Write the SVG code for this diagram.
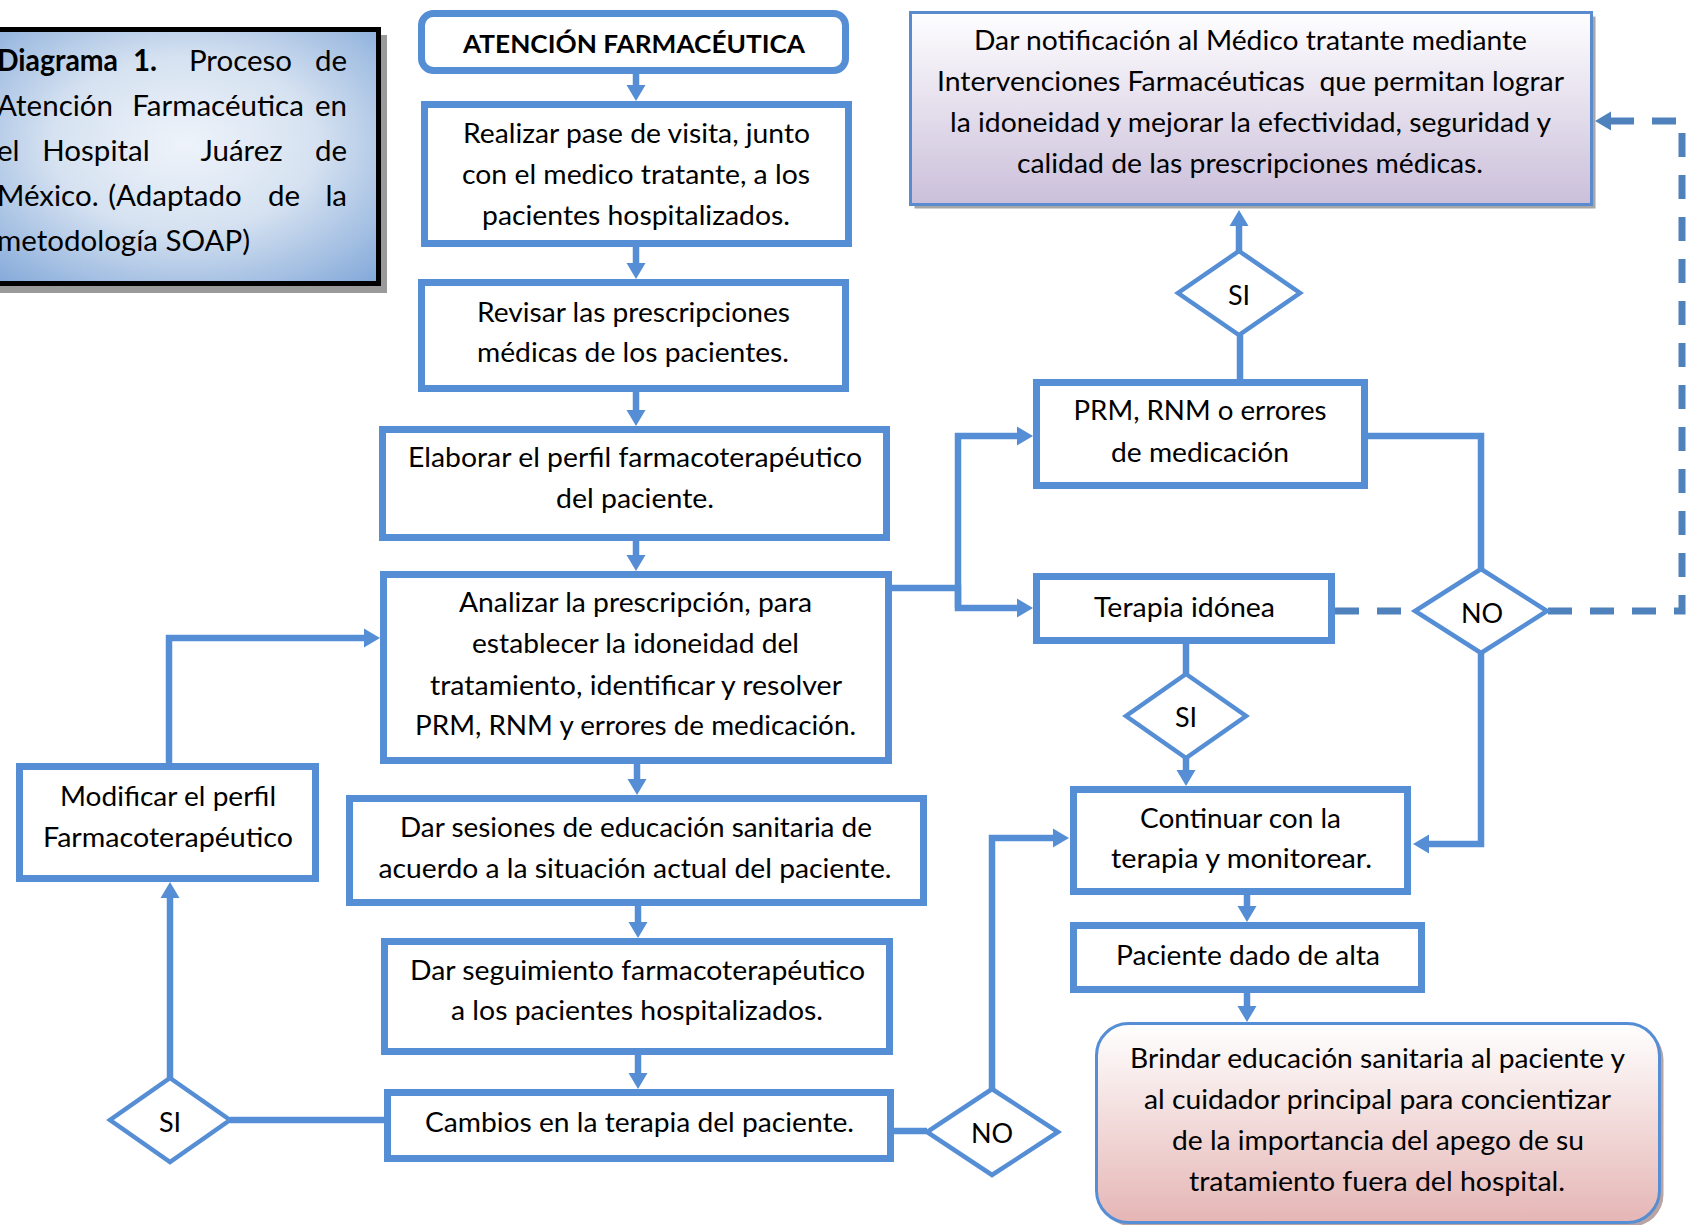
<svg xmlns="http://www.w3.org/2000/svg" width="1690" height="1225" viewBox="0 0 1690 1225">
<defs>
<style>
.n{fill:#fff;stroke:#558ed5;stroke-width:7}
.d{fill:#fff;stroke:#558ed5;stroke-width:4.5}
.c{fill:none;stroke:#558ed5;stroke-width:6.5}
.cd{fill:none;stroke:#4f81bd;stroke-width:7;stroke-dasharray:24 18}
.t{font-family:Lato,"Open Sans",sans-serif;font-size:27px;fill:#000;text-anchor:middle}
.cap{font-family:Lato,"Open Sans",sans-serif;font-size:29.5px;fill:#000}
.b{font-weight:bold}
.m{text-anchor:middle}
.e{text-anchor:end}
</style>
<marker id="ah" markerUnits="userSpaceOnUse" viewBox="0 -10 16 20" markerWidth="16" markerHeight="20" refX="0" refY="0" orient="auto"><path d="M0,-9.5 L16,0 L0,9.5 z" fill="#558ed5"/></marker>
<marker id="ahd" markerUnits="userSpaceOnUse" viewBox="0 -10 16 20" markerWidth="16" markerHeight="20" refX="0" refY="0" orient="auto"><path d="M0,-9.5 L16,0 L0,9.5 z" fill="#4f81bd"/></marker>
<radialGradient id="gcap" cx="50%" cy="45%" r="75%">
<stop offset="0" stop-color="#eef3fa"/><stop offset="0.45" stop-color="#d6e2f1"/><stop offset="1" stop-color="#7fa6d8"/>
</radialGradient>
<linearGradient id="gnot" x1="0" y1="0" x2="0" y2="1"><stop offset="0" stop-color="#fefeff"/><stop offset="1" stop-color="#cbbfda"/></linearGradient>
<linearGradient id="gbri" x1="0" y1="0" x2="0" y2="1"><stop offset="0" stop-color="#ffffff"/><stop offset="1" stop-color="#e5b6b5"/></linearGradient>
</defs>

<g id="caption">
<rect x="-5" y="35" width="392" height="258" fill="#9a9a9a"/>
<rect x="-10" y="29.5" width="388.5" height="254" fill="url(#gcap)" stroke="#000" stroke-width="5"/>
<text class="cap b" x="-3" y="71" textLength="121" lengthAdjust="spacingAndGlyphs">Diagrama</text>
<text class="cap b m" x="145" y="71">1.</text>
<text class="cap m" x="240.5" y="71">Proceso</text>
<text class="cap e" x="347" y="71">de</text>
<text class="cap" x="-3" y="116">Atención</text>
<text class="cap m" x="218" y="116">Farmacéutica</text>
<text class="cap e" x="347" y="116">en</text>
<text class="cap" x="-3" y="161">el</text>
<text class="cap m" x="96" y="161">Hospital</text>
<text class="cap m" x="241.5" y="161">Juárez</text>
<text class="cap e" x="347" y="161">de</text>
<text class="cap" x="-3" y="206">México.</text>
<text class="cap m" x="175" y="206">(Adaptado</text>
<text class="cap m" x="284" y="206">de</text>
<text class="cap e" x="347" y="206">la</text>
<text class="cap" x="-3" y="251">metodología SOAP)</text>
</g>

<g id="connectors">
<path class="c" d="M636,74 V85" marker-end="url(#ah)"/>
<path class="c" d="M636,247 V263" marker-end="url(#ah)"/>
<path class="c" d="M636,392 V410" marker-end="url(#ah)"/>
<path class="c" d="M636,541 V555" marker-end="url(#ah)"/>
<path class="c" d="M637,764 V779" marker-end="url(#ah)"/>
<path class="c" d="M638,906 V922" marker-end="url(#ah)"/>
<path class="c" d="M638,1055 V1073" marker-end="url(#ah)"/>
<path class="c" d="M958,608 V436 H1017" marker-end="url(#ah)"/>
<path class="c" d="M892,588 H958 V608 H1017" marker-end="url(#ah)"/>
<path class="c" d="M1240,380 V335"/>
<path class="c" d="M1239,252 V226" marker-end="url(#ah)"/>
<path class="c" d="M1368,436 H1481 V569"/>
<path class="cd" d="M1335,611 H1415"/>
<path class="cd" d="M1548,611 H1682 V121 H1611" marker-end="url(#ahd)"/>
<path class="c" d="M1481,653 V844 H1429" marker-end="url(#ah)"/>
<path class="c" d="M1186,644 V674"/>
<path class="c" d="M1186,758 V770" marker-end="url(#ah)"/>
<path class="c" d="M1247,895 V906" marker-end="url(#ah)"/>
<path class="c" d="M1247,993 V1006" marker-end="url(#ah)"/>
<path class="c" d="M894,1131 H927"/>
<path class="c" d="M992,1089 V838 H1053" marker-end="url(#ah)"/>
<path class="c" d="M230,1120 H384"/>
<path class="c" d="M170,1078 V898" marker-end="url(#ah)"/>
<path class="c" d="M169,763 V638 H364" marker-end="url(#ah)"/>
</g>

<g id="n-atencion">
<rect class="n" x="421.5" y="13.5" width="424" height="57" rx="12"/>
<text class="t b" x="634" y="53" style="font-size:25px" textLength="342" lengthAdjust="spacingAndGlyphs">ATENCIÓN FARMACÉUTICA</text>
</g>
<g id="n-visita">
<rect class="n" x="424.5" y="104.5" width="424" height="139"/>
<text class="t" x="636.5" y="143" textLength="347" lengthAdjust="spacingAndGlyphs">Realizar pase de visita, junto</text>
<text class="t" x="636" y="184" textLength="348" lengthAdjust="spacingAndGlyphs">con el medico tratante, a los</text>
<text class="t" x="636" y="225" textLength="308" lengthAdjust="spacingAndGlyphs">pacientes hospitalizados.</text>
</g>
<g id="n-revisar">
<rect class="n" x="421.5" y="282.5" width="424" height="106"/>
<text class="t" x="633.5" y="322" textLength="313" lengthAdjust="spacingAndGlyphs">Revisar las prescripciones</text>
<text class="t" x="633" y="362" textLength="312" lengthAdjust="spacingAndGlyphs">médicas de los pacientes.</text>
</g>
<g id="n-perfil">
<rect class="n" x="382.5" y="429.5" width="504" height="108"/>
<text class="t" x="635" y="467" textLength="454" lengthAdjust="spacingAndGlyphs">Elaborar el perfil farmacoterapéutico</text>
<text class="t" x="635" y="508" textLength="158" lengthAdjust="spacingAndGlyphs">del paciente.</text>
</g>
<g id="n-analizar">
<rect class="n" x="383.5" y="574.5" width="505" height="186"/>
<text class="t" x="635.5" y="612" textLength="353" lengthAdjust="spacingAndGlyphs">Analizar la prescripción, para</text>
<text class="t" x="635.5" y="653" textLength="327" lengthAdjust="spacingAndGlyphs">establecer la idoneidad del</text>
<text class="t" x="636" y="695" textLength="412" lengthAdjust="spacingAndGlyphs">tratamiento, identificar y resolver</text>
<text class="t" x="635.5" y="735" textLength="441" lengthAdjust="spacingAndGlyphs">PRM, RNM y errores de medicación.</text>
</g>
<g id="n-sesiones">
<rect class="n" x="349.5" y="798.5" width="574" height="104"/>
<text class="t" x="636" y="837" textLength="472" lengthAdjust="spacingAndGlyphs">Dar sesiones de educación sanitaria de</text>
<text class="t" x="635" y="878" textLength="513" lengthAdjust="spacingAndGlyphs">acuerdo a la situación actual del paciente.</text>
</g>
<g id="n-seguimiento">
<rect class="n" x="384.5" y="941.5" width="505" height="110"/>
<text class="t" x="637.5" y="980" textLength="455" lengthAdjust="spacingAndGlyphs">Dar seguimiento farmacoterapéutico</text>
<text class="t" x="637" y="1020" textLength="372" lengthAdjust="spacingAndGlyphs">a los pacientes hospitalizados.</text>
</g>
<g id="n-cambios">
<rect class="n" x="387.5" y="1092.5" width="503" height="66"/>
<text class="t" x="639.5" y="1132" textLength="429" lengthAdjust="spacingAndGlyphs">Cambios en la terapia del paciente.</text>
</g>
<g id="n-notificacion">
<rect x="914.5" y="16.5" width="681" height="192" fill="#a6a6a6"/>
<rect x="910.5" y="12.5" width="681" height="192" fill="url(#gnot)" stroke="#5a8bcf" stroke-width="3"/>
<text class="t" x="1250.5" y="50" textLength="553" lengthAdjust="spacingAndGlyphs">Dar notificación al Médico tratante mediante</text>
<text class="t" x="1250.5" y="91" textLength="627" lengthAdjust="spacingAndGlyphs" style="white-space:pre">Intervenciones Farmacéuticas  que permitan lograr</text>
<text class="t" x="1250.5" y="132" textLength="601" lengthAdjust="spacingAndGlyphs">la idoneidad y mejorar la efectividad, seguridad y</text>
<text class="t" x="1250" y="173" textLength="466" lengthAdjust="spacingAndGlyphs">calidad de las prescripciones médicas.</text>
</g>
<g id="d-si-top">
<polygon class="d" points="1239,251 1300,293 1239,335 1178,293"/>
<text class="t" x="1239" y="305">SI</text>
</g>
<g id="n-prm">
<rect class="n" x="1036.5" y="382.5" width="328" height="103"/>
<text class="t" x="1200" y="420" textLength="253" lengthAdjust="spacingAndGlyphs">PRM, RNM o errores</text>
<text class="t" x="1200" y="462" textLength="178" lengthAdjust="spacingAndGlyphs">de medicación</text>
</g>
<g id="n-terapia">
<rect class="n" x="1036.5" y="576.5" width="295" height="64"/>
<text class="t" x="1184.5" y="617" textLength="181" lengthAdjust="spacingAndGlyphs">Terapia idónea</text>
</g>
<g id="d-no-right">
<polygon class="d" points="1481,569 1547,611 1481,653 1415,611"/>
<text class="t" x="1482" y="623">NO</text>
</g>
<g id="d-si-mid">
<polygon class="d" points="1186,674 1246,716 1186,758 1126,716"/>
<text class="t" x="1186" y="727">SI</text>
</g>
<g id="n-continuar">
<rect class="n" x="1073.5" y="789.5" width="334" height="102"/>
<text class="t" x="1240.5" y="828" textLength="201" lengthAdjust="spacingAndGlyphs">Continuar con la</text>
<text class="t" x="1241.5" y="868" textLength="261" lengthAdjust="spacingAndGlyphs">terapia y monitorear.</text>
</g>
<g id="n-alta">
<rect class="n" x="1073.5" y="925.5" width="348" height="64"/>
<text class="t" x="1248" y="965" textLength="264" lengthAdjust="spacingAndGlyphs">Paciente dado de alta</text>
</g>
<g id="n-brindar">
<rect x="1100.5" y="1027.5" width="563" height="199" rx="32" fill="#b9a3a3"/>
<rect x="1096.5" y="1023.5" width="563" height="199" rx="32" fill="url(#gbri)" stroke="#558ed5" stroke-width="3"/>
<text class="t" x="1377.5" y="1068" textLength="495" lengthAdjust="spacingAndGlyphs">Brindar educación sanitaria al paciente y</text>
<text class="t" x="1377.5" y="1109" textLength="467" lengthAdjust="spacingAndGlyphs">al cuidador principal para concientizar</text>
<text class="t" x="1378" y="1150" textLength="412" lengthAdjust="spacingAndGlyphs">de la importancia del apego de su</text>
<text class="t" x="1377" y="1191" textLength="376" lengthAdjust="spacingAndGlyphs">tratamiento fuera del hospital.</text>
</g>
<g id="d-no-bottom">
<polygon class="d" points="992,1089 1058,1132 992,1175 927,1132"/>
<text class="t" x="992" y="1143">NO</text>
</g>
<g id="n-modificar">
<rect class="n" x="19.5" y="766.5" width="296" height="112"/>
<text class="t" x="168" y="806" textLength="216" lengthAdjust="spacingAndGlyphs">Modificar el perfil</text>
<text class="t" x="168" y="847" textLength="250" lengthAdjust="spacingAndGlyphs">Farmacoterapéutico</text>
</g>
<g id="d-si-left">
<polygon class="d" points="170,1078 230,1120 170,1162 110,1120"/>
<text class="t" x="170" y="1132">SI</text>
</g>
</svg>
